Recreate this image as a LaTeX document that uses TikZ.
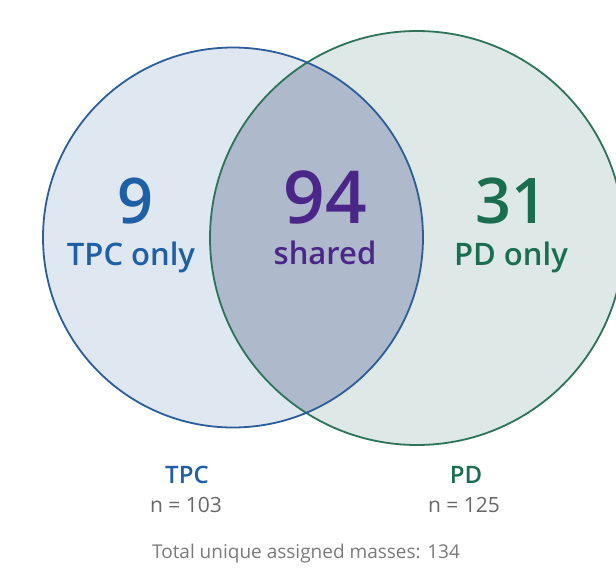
\documentclass[tikz,border=0pt]{standalone}
\usepackage{fontspec}
\setmainfont{Open Sans}[BoldFont={Open Sans Semibold}]
\begin{document}
\definecolor{tpcfill}{HTML}{DFE7F1}
\definecolor{pdfill}{HTML}{DDE8E7}
\definecolor{bothfill}{HTML}{AEB9CC}
\definecolor{tpcline}{HTML}{2C5D9A}
\definecolor{pdline}{HTML}{2C7358}
\definecolor{tpctext}{HTML}{1F5FA5}
\definecolor{bothtext}{HTML}{4B2689}
\definecolor{pdtext}{HTML}{1A6E4F}
\definecolor{note}{HTML}{7A7A7A}
\begin{tikzpicture}[x=1pt,y=-1pt,
  count/.style={font=\fontsize{63}{63}\selectfont\bfseries, anchor=base, inner sep=0pt},
  bigcount/.style={font=\fontsize{73}{73}\selectfont\bfseries, anchor=base, inner sep=0pt},
  region/.style={font=\fontsize{31}{31}\selectfont\bfseries, anchor=base, inner sep=0pt},
  setname/.style={font=\fontsize{24}{24}\selectfont\bfseries, anchor=base, inner sep=0pt},
  setsize/.style={font=\fontsize{21}{21}\selectfont, anchor=base, inner sep=0pt, text=note!85!black},
  caption/.style={font=\fontsize{19}{19}\selectfont, anchor=base, inner sep=0pt, text=note}]
  \useasboundingbox (0,0) rectangle (616,570);
  \fill[white] (0,0) rectangle (616,570);
  % set discs
  \coordinate (ctpc) at (233,237.5);
  \coordinate (cpd) at (417,238);
  \begin{scope}
    \clip (0,0) rectangle (616,570);
    \fill[tpcfill] (ctpc) circle[radius=190];
    \fill[pdfill] (cpd) circle[radius=207];
    \begin{scope}
      \clip (ctpc) circle[radius=190];
      \fill[bothfill] (cpd) circle[radius=207];
    \end{scope}
    \draw[pdline, line width=1.8pt] (cpd) circle[radius=207];
    \draw[tpcline, line width=1.8pt] (ctpc) circle[radius=190];
  \end{scope}
  % region counts
  \node[count, text=tpctext] (ntpc) at (135,223) {9};
  \node[region, text=tpctext] (ltpc) at (131,265) {TPC only};
  \node[bigcount, text=bothtext] (nboth) at (325,223) {94};
  \node[region, text=bothtext] (lboth) at (325,264) {shared};
  \node[count, text=pdtext] (npd) at (511,223) {31};
  \node[region, text=pdtext] (lpd) at (511,265) {PD only};
  % set totals
  \node[setname, text=tpctext] (stpc) at (187,483) {TPC};
  \node[setsize] (ztpc) at (186,512) {n = 103};
  \node[setname, text=pdtext] (spd) at (466,483) {PD};
  \node[setsize] (zpd) at (464,512) {n = 125};
  \node[caption] (total) at (306,558) {Total unique assigned masses: 134};
\end{tikzpicture}
\end{document}
